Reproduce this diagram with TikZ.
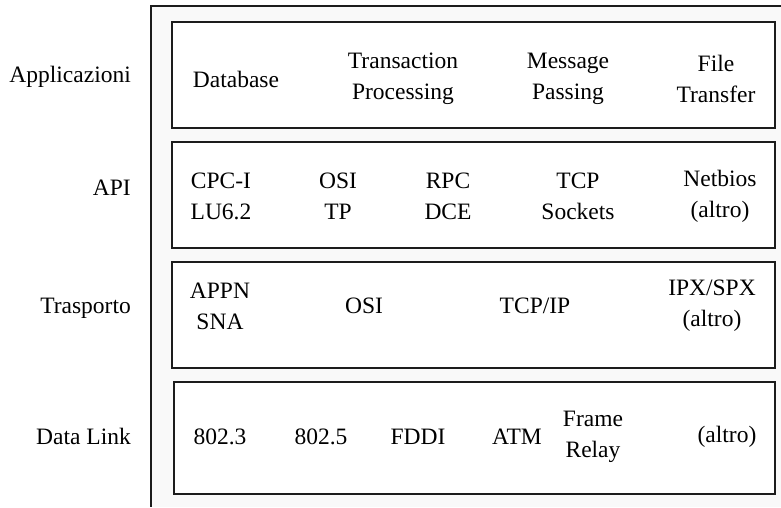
\documentclass[tikz,border=0pt]{standalone}
\usepackage{fontspec}
\setmainfont{Liberation Serif}
\definecolor{framegray}{HTML}{F9F9F9}
\definecolor{inkline}{HTML}{1C1C1C}

\begin{document}
\begin{tikzpicture}[x=1pt, y=-1pt,
    layer/.style={draw=inkline, line width=1.6pt, fill=white, inner sep=0pt, minimum width=603pt, minimum height=106pt},
    item/.style={align=center, inner sep=0pt, font=\fontsize{23.5}{31}\selectfont},
    side/.style={anchor=east, inner sep=0pt, font=\fontsize{23.5}{31}\selectfont}]
    \useasboundingbox (0,0) rectangle (781,507);
    % Frame
    \fill[framegray] (151,6) rectangle (781,507);
    \draw[inkline, line width=1.6pt] (781,6) -- (151,6) -- (151,507);
    % Layers
    \node[layer] (app) at (473.5,75) {};
    \node[layer] (api) at (473.5,195) {};
    \node[layer] (tra) at (473.5,315) {};
    \node[layer, minimum width=601pt, minimum height=112pt] (dl) at (474.5,438) {};
    % Side labels
    \node[side] (lapp) at (131,77) {Applicazioni};
    \node[side] (lapi) at (131,188) {API};
    \node[side] (ltra) at (131,308) {Trasporto};
    \node[side] (ldl) at (131,436) {Data Link};
    % Applicazioni
    \node[item] (db) at (236,79) {Database};
    \node[item] (tp) at (403,79) {Transaction\\Processing};
    \node[item] (mp) at (568,79) {Message\\Passing};
    \node[item] (ft) at (716,79) {File\\Transfer};
    % API
    \node[item] (cpc) at (221,196) {CPC-I\\LU6.2};
    \node[item] (ositp) at (338,196) {OSI\\TP};
    \node[item] (rpc) at (448,196) {RPC\\DCE};
    \node[item] (tcps) at (578,196) {TCP\\Sockets};
    \node[item] (nb) at (720,196) {Netbios\\(altro)};
    % Trasporto
    \node[item] (appn) at (220,306) {APPN\\SNA};
    \node[item] (osi) at (364,306) {OSI};
    \node[item] (tcpip) at (535,306) {TCP/IP};
    \node[item] (ipx) at (712,306) {IPX/SPX\\(altro)};
    % Data Link
    \node[item] (e3) at (220,437) {802.3};
    \node[item] (e5) at (321,437) {802.5};
    \node[item] (fddi) at (418,437) {FDDI};
    \node[item] (atm) at (517,437) {ATM};
    \node[item] (fr) at (593,437) {Frame\\Relay};
    \node[item] (dlx) at (727,437) {(altro)};
\end{tikzpicture}
\end{document}
